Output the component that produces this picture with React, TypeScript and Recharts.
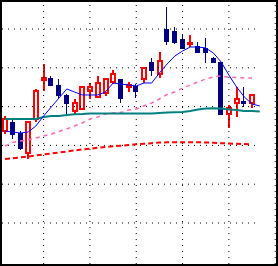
import React from 'react';
import { ComposedChart, Bar, Line, XAxis, YAxis, ReferenceLine } from 'recharts';

const idx = [0, 1, 2, 3, 4, 5, 6, 7, 8, 9, 10, 11, 12, 13, 14, 15, 16, 17, 18, 19, 20, 21, 22, 23, 24, 25, 26, 27, 28, 29, 30, 31, 32, 33];

const opens = [33.71, 36.03, 33.19, 28.04, 36.8, 46.86, 47.37, 45.57, 42.99, 38.87, 39.38, 44.02, 42.47, 43.5, 46.34, 47.11, 45.05, 45.31, 47.11, 51.49, 48.4, 60.0, 59.48, 57.42, 56.13, 55.62, 55.1, 52.53, 51.49, 38.09, 40.93, 41.44, 40.93];
const highs = [37.58, 36.8, 33.71, 36.29, 44.54, 50.98, 47.89, 47.11, 43.25, 41.96, 45.31, 46.08, 47.89, 47.3, 49.43, 47.2, 46.34, 45.82, 50.21, 52.53, 54.07, 65.67, 60.52, 58.71, 58.45, 56.65, 57.68, 52.8, 51.6, 40.41, 45.05, 45.05, 43.1];
const lows = [32.94, 31.65, 28.82, 26.49, 36.03, 44.02, 45.2, 42.22, 38.09, 38.09, 39.12, 41.96, 42.4, 42.73, 45.82, 40.93, 43.76, 42.22, 46.08, 47.89, 47.37, 55.87, 56.13, 54.75, 55.36, 53.75, 51.24, 51.2, 37.8, 34.48, 37.32, 39.9, 39.64];
const closes = [36.8, 32.68, 29.08, 36.03, 44.02, 47.37, 45.31, 42.73, 40.67, 40.93, 45.05, 45.05, 46.08, 47.11, 48.4, 41.96, 45.57, 43.76, 49.95, 49.17, 51.75, 56.65, 56.39, 54.85, 56.39, 53.81, 53.81, 51.24, 37.84, 39.64, 41.96, 40.67, 42.99];

const maFast = [33.71, 33.45, 33.19, 33.45, 35.0, 37.58, 39.9, 42.22, 44.54, 43.76, 42.99, 42.99, 42.99, 43.76, 46.08, 45.82, 45.57, 45.31, 46.08, 46.08, 48.66, 50.98, 53.04, 54.33, 55.36, 55.36, 55.1, 53.81, 51.49, 48.14, 45.05, 42.47, 40.67, 40.16];
const maTeal = [36.8, 36.8, 36.8, 36.8, 36.8, 37.32, 37.58, 37.58, 37.84, 38.02, 38.09, 38.22, 38.22, 38.22, 38.22, 38.22, 38.22, 38.22, 38.22, 38.22, 38.35, 38.48, 38.53, 38.61, 38.87, 39.25, 39.51, 39.56, 39.51, 39.25, 39.12, 38.87, 38.87, 38.74];
const maPink = [29.85, 30.75, 31.13, 31.39, 31.91, 32.42, 32.94, 33.58, 34.23, 35.0, 35.77, 36.8, 37.32, 38.09, 38.35, 38.48, 39.12, 39.38, 40.16, 40.93, 41.96, 43.12, 43.76, 44.79, 45.57, 46.34, 47.11, 47.63, 47.89, 47.63, 47.5, 47.37, 47.37];
const maRed = [26.49, 26.67, 26.93, 27.14, 27.4, 27.66, 27.91, 28.17, 28.43, 28.69, 28.95, 29.15, 29.38, 29.59, 29.77, 29.92, 30.1, 30.28, 30.41, 30.57, 30.72, 30.8, 30.82, 30.82, 30.82, 30.8, 30.75, 30.67, 30.57, 30.49, 30.41, 30.33, 30.28];

const gridX = [5, 11, 17, 23, 29, 35];
const gridY = [10, 20, 30, 40, 50, 60];

const data = idx.map((i) => ({
  i,
  o: opens[i],
  h: highs[i],
  l: lows[i],
  c: closes[i],
  fast: maFast[i],
  teal: maTeal[i],
  pink: maPink[i] ?? null,
  red: maRed[i] ?? null,
}));

const Candle = (props: any) => {
  const { x, y, width, height, payload } = props;
  if (!payload || payload.o == null || payload.h === payload.l) return <g />;
  const { o, h, l, c } = payload;
  const py = (p: number) => y + ((h - p) / (h - l)) * height;
  const cx = Math.round(x + width / 2);
  const top = Math.round(py(h));
  const bot = Math.round(py(l));
  const bTop = Math.round(py(Math.max(o, c)));
  const bBot = Math.round(py(Math.min(o, c)));
  if (c >= o) {
    const color = '#ff0000';
    return (
      <g>
        <rect x={cx - 1} y={top} width={2} height={Math.max(bot - top, 1)} fill={color} />
        <rect x={cx - 2} y={bTop} width={4} height={Math.max(bBot - bTop, 0.01)} fill="#ffffff" stroke={color} strokeWidth={2} />
      </g>
    );
  }
  const color = '#000080';
  return (
    <g>
      <rect x={cx - 1} y={top} width={1} height={Math.max(bot - top, 1)} fill={color} />
      <rect x={cx - 3} y={bTop} width={5} height={Math.max(bBot - bTop, 1)} fill={color} />
    </g>
  );
};

export default function App() {
  return (
    <div
      style={{
        position: 'absolute',
        left: 0,
        top: 0,
        width: 278,
        height: 266,
        border: '2px solid #000',
        boxSizing: 'border-box',
        background: '#fff',
      }}
    >
      <ComposedChart width={274} height={262} data={data} margin={{ top: 0, right: 0, bottom: 0, left: 0 }}>
        <XAxis dataKey="i" type="number" domain={[-0.389, 35.104]} hide allowDataOverflow />
        <YAxis type="number" domain={[-0.57, 66.96]} hide allowDataOverflow />
        {gridX.map((gx) => (
          <ReferenceLine key={'gx' + gx} x={gx} stroke="#000" strokeWidth={1} strokeDasharray="1 5" />
        ))}
        {gridY.map((gy) => (
          <ReferenceLine
            key={'gy' + gy}
            segment={[{ x: -0.389, y: gy }, { x: 32.38, y: gy }]}
            stroke="#000"
            strokeWidth={1}
            strokeDasharray="1 5"
          />
        ))}
        <Line type="linear" dataKey="red" stroke="#ff0000" strokeWidth={2} strokeDasharray="5 3" dot={false} isAnimationActive={false} />
        <Line type="linear" dataKey="pink" stroke="#ff69b4" strokeWidth={1.5} strokeDasharray="4 4" dot={false} isAnimationActive={false} />
        <Line type="linear" dataKey="teal" stroke="#008080" strokeWidth={2} dot={false} isAnimationActive={false} />
        <Line type="linear" dataKey="fast" stroke="#0000ff" strokeWidth={1} dot={false} isAnimationActive={false} />
        <Bar dataKey={(d: any) => (d.h == null ? null : [d.l, d.h])} barSize={6} shape={Candle} isAnimationActive={false} />
      </ComposedChart>
    </div>
  );
}
